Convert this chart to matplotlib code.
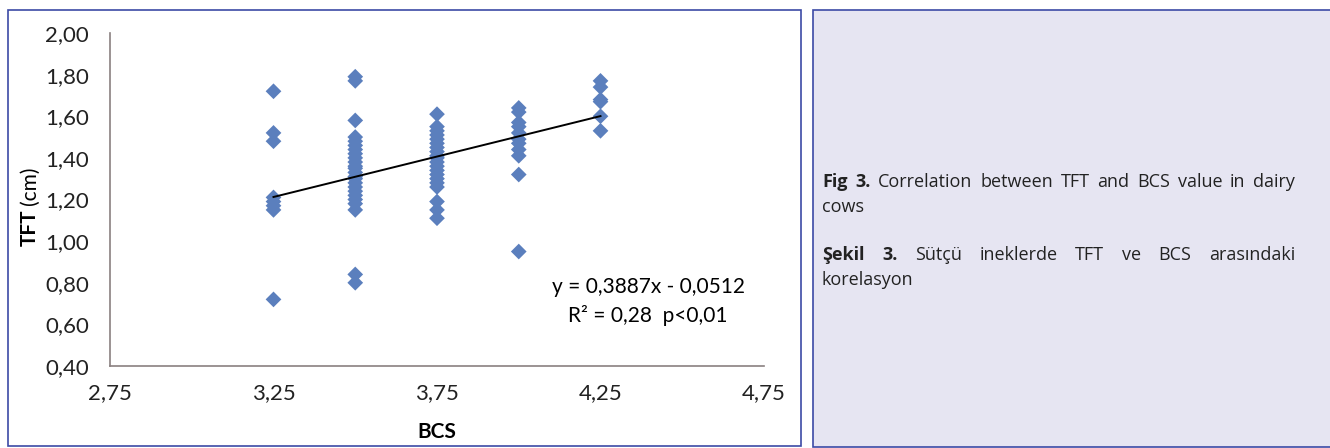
import numpy as np
import matplotlib
matplotlib.use("Agg")
import matplotlib.pyplot as plt
from matplotlib.patches import Rectangle
from matplotlib.ticker import FixedLocator

# BCS sınıfları ve her sınıftaki TFT ölçümleri (cm)
bcs_325 = [1.72, 1.52, 1.48, 1.21, 1.19, 1.17, 1.15, 0.72]
bcs_350 = [1.79, 1.77, 1.58, 1.50, 1.48, 1.46, 1.44, 1.42, 1.40, 1.38, 1.36, 1.35,
           1.33, 1.31, 1.30, 1.28, 1.26, 1.24, 1.22, 1.20, 1.18, 1.15, 0.84, 0.80]
bcs_375 = [1.61, 1.55, 1.53, 1.51, 1.49, 1.47, 1.45, 1.43, 1.41, 1.40, 1.38, 1.36,
           1.34, 1.32, 1.30, 1.28, 1.26, 1.19, 1.15, 1.11]
bcs_400 = [1.64, 1.62, 1.57, 1.55, 1.52, 1.49, 1.47, 1.44, 1.41, 1.32, 0.95]
bcs_425 = [1.77, 1.74, 1.68, 1.67, 1.60, 1.53]

bcs_values = [3.25, 3.50, 3.75, 4.00, 4.25]
tft_groups = [bcs_325, bcs_350, bcs_375, bcs_400, bcs_425]

slope = 0.3887
intercept = -0.0512

x_ticks = [2.75, 3.25, 3.75, 4.25, 4.75]
y_ticks = [0.40, 0.60, 0.80, 1.00, 1.20, 1.40, 1.60, 1.80, 2.00]

W, H = 1330, 448
fig = plt.figure(figsize=(W / 100, H / 100), dpi=100)
fig.patch.set_facecolor("white")

chart_font = "Lato"
cap_font = ["Open Sans", "DejaVu Sans"]

# çerçeveler
fig.patches.append(Rectangle((8 / W, 2 / H), 793 / W, 436 / H, transform=fig.transFigure,
                             fill=False, edgecolor="#3c4aa6", linewidth=1.2))
fig.patches.append(Rectangle((813 / W, 1 / H), 530 / W, 437 / H, transform=fig.transFigure,
                             facecolor="#e6e5f2", edgecolor="#3c4aa6", linewidth=1.2))

ax = fig.add_axes([110 / W, (H - 366) / H, 654 / W, 333 / H])
ax.set_facecolor("none")

xs = []
ys = []
for b, grp in zip(bcs_values, tft_groups):
    xs += [b] * len(grp)
    ys += grp
ax.scatter(xs, ys, marker="D", s=64, color="#5b7fbd", edgecolors="none", zorder=3)

line_x = np.array([bcs_values[0], bcs_values[-1]])
ax.plot(line_x, slope * line_x + intercept, color="black", linewidth=1.4, zorder=4)

ax.set_xlim(x_ticks[0], x_ticks[-1])
ax.set_ylim(y_ticks[0], y_ticks[-1])
ax.xaxis.set_major_locator(FixedLocator(x_ticks))
ax.yaxis.set_major_locator(FixedLocator(y_ticks))
ax.set_xticklabels([f"{v:.2f}".replace(".", ",") for v in x_ticks])
ax.set_yticklabels([f"{v:.2f}".replace(".", ",") for v in y_ticks])
ax.tick_params(length=0, labelsize=16, colors="#222222")
ax.tick_params(axis="y", pad=15)
ax.tick_params(axis="x", pad=12)
for lab in ax.get_xticklabels() + ax.get_yticklabels():
    lab.set_family(chart_font)

for s in ["top", "right"]:
    ax.spines[s].set_visible(False)
for s in ["left", "bottom"]:
    ax.spines[s].set_color("#8a8080")
    ax.spines[s].set_linewidth(1.2)

ax.set_xlabel("BCS", fontsize=15, fontweight="bold", family=chart_font, labelpad=14)

renderer = fig.canvas.get_renderer()

t_tft = fig.text(30 / W, (H - 246) / H, "TFT", rotation=90, fontsize=15, fontweight="bold",
                 family=chart_font, ha="center", va="bottom")
h_tft = t_tft.get_window_extent(renderer).height
fig.text(30 / W, (H - 246 + h_tft + 5) / H, "(cm)", rotation=90, fontsize=15,
         family=chart_font, ha="center", va="bottom")

ax.text(648 / W, (H - 287) / H, "y = 0,3887x - 0,0512", transform=fig.transFigure,
        fontsize=15, family=chart_font, ha="center", va="center")
ax.text(648 / W, (H - 315) / H, "R² = 0,28  p<0,01", transform=fig.transFigure,
        fontsize=15, family=chart_font, ha="center", va="center")


# sağ panel: açıklama metni (iki yana yaslı)
def justified(words, x0, x1, y, size=13):
    texts = [fig.text(0, y / H, w, fontsize=size, fontweight=wt, family=cap_font,
                      va="baseline", color="#222222") for w, wt in words]
    widths = [t.get_window_extent(renderer).width for t in texts]
    gap = ((x1 - x0) - sum(widths)) / max(len(words) - 1, 1)
    x = x0
    for t, w in zip(texts, widths):
        t.set_x(x / W)
        x += w + gap


def plain(words, x0, y, size=13):
    x = x0
    for w, wt in words:
        t = fig.text(x / W, y / H, w, fontsize=size, fontweight=wt, family=cap_font,
                     va="baseline", color="#222222")
        x += t.get_window_extent(renderer).width + 5


line1 = [("Fig", "bold"), ("3.", "bold")] + [(w, "normal") for w in
         "Correlation between TFT and BCS value in dairy".split()]
justified(line1, 822, 1295, H - 187)
plain([("cows", "normal")], 822, H - 212)
line3 = [("Şekil", "bold"), ("3.", "bold")] + [(w, "normal") for w in
         "Sütçü ineklerde TFT ve BCS arasındaki".split()]
justified(line3, 822, 1295, H - 260)
plain([("korelasyon", "normal")], 822, H - 285)

fig.savefig("out.png", dpi=100)
